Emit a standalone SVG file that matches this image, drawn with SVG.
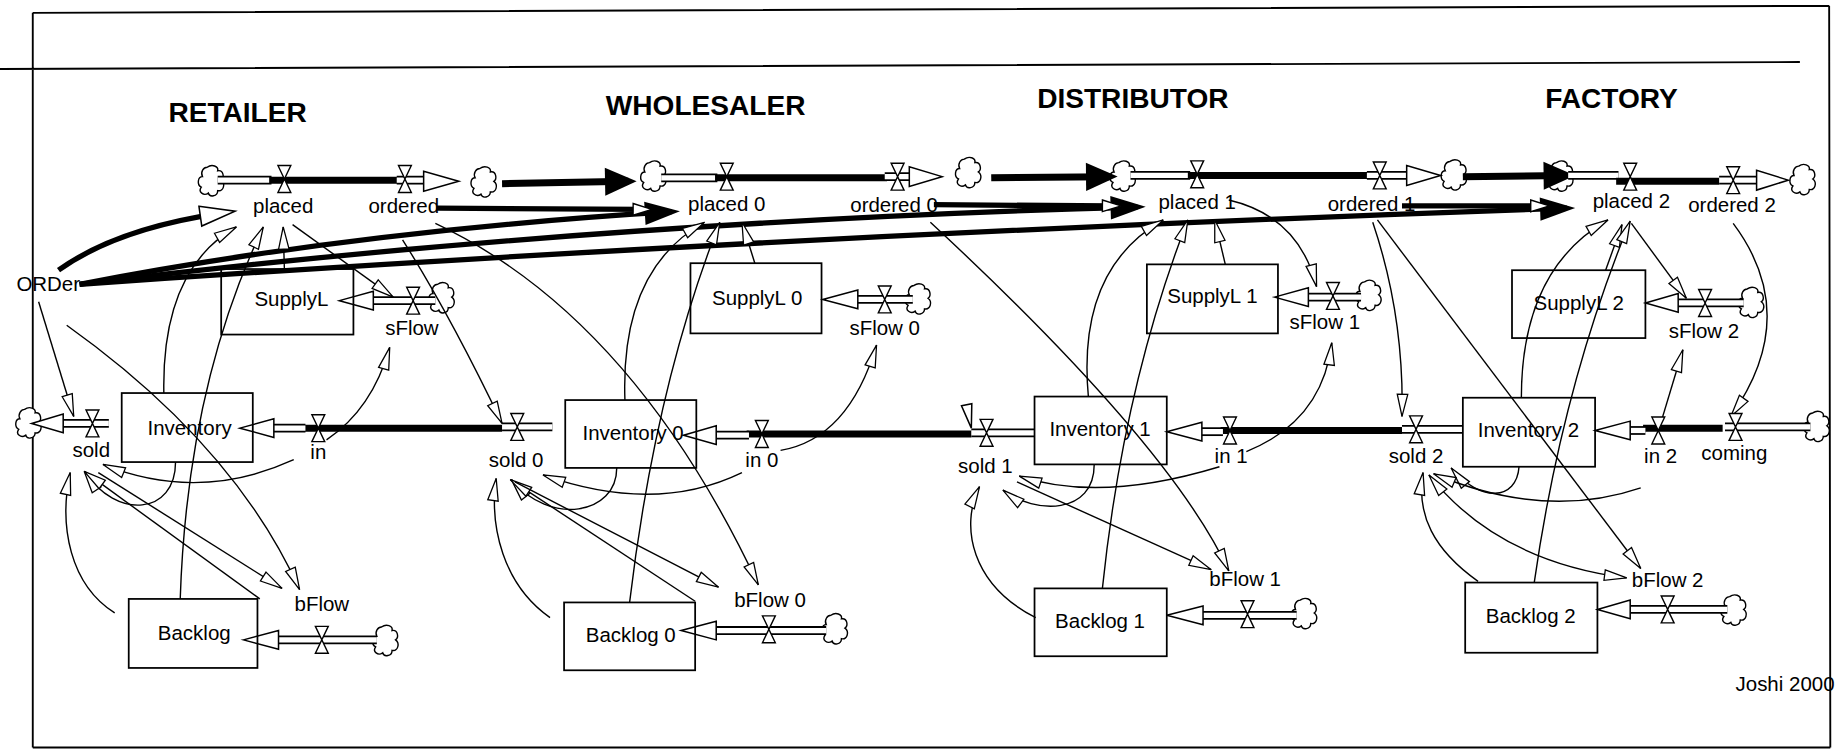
<svg xmlns="http://www.w3.org/2000/svg" width="1835" height="751" viewBox="0 0 1835 751">
<style>
.ln{fill:none;stroke:#000;stroke-width:1.2}
.tk{fill:none;stroke:#000;stroke-width:4.5}
.ch{fill:none;stroke:#000;stroke-width:6}
.po{fill:none;stroke:#000;stroke-width:7.5}
.pi{fill:none;stroke:#fff;stroke-width:4.5}
.hd{fill:#fff;stroke:#000;stroke-width:1.3}
.bx{fill:none;stroke:#000;stroke-width:1.5}
.fr{fill:none;stroke:#000;stroke-width:1.6}
.t{font-family:"Liberation Sans",Arial,Helvetica,sans-serif;font-size:17.5px;text-anchor:middle;fill:#000}
.h{font-family:"Liberation Sans",Arial,Helvetica,sans-serif;font-size:24px;font-weight:bold;text-anchor:middle;fill:#000}
</style>
<defs>
<g id="cl"><path fill="#fff" stroke="#000" stroke-width="1.2" d="M-4,-12 C0,-15 6,-13 5,-9 C10,-10 11,-3 8,-1 C12,2 10,9 5,8 C5,13 -2,14 -3,10 C-7,13 -12,9 -9,5 C-13,3 -12,-4 -8,-4 C-10,-8 -7,-12 -4,-12 Z"/></g>
<g id="vv"><path fill="#fff" stroke="#000" stroke-width="1.2" d="M-5.5,-11.5H5.5L-5.5,11.5H5.5Z"/></g>
<marker id="a" viewBox="0 0 19 10" refX="19" refY="5" markerWidth="19" markerHeight="10" markerUnits="userSpaceOnUse" orient="auto-start-reverse" overflow="visible"><path d="M0,0.5L19,5L0,9.5Z" fill="#fff" stroke="#000" stroke-width="1.1"/></marker>
<marker id="hb" viewBox="0 0 30 17" refX="20" refY="8.5" markerWidth="30" markerHeight="17" markerUnits="userSpaceOnUse" orient="auto" overflow="visible"><path d="M0,0L30,8.5L0,17Z" fill="#fff" stroke="#000" stroke-width="1.3"/></marker>
<marker id="hs" viewBox="0 0 16 10" refX="8" refY="5" markerWidth="16" markerHeight="10" markerUnits="userSpaceOnUse" orient="auto" overflow="visible"><path d="M0,0L16,5L0,10Z" fill="#fff" stroke="#000" stroke-width="1.2"/></marker>
<marker id="f" viewBox="0 0 30 20" refX="23" refY="10" markerWidth="30" markerHeight="20" markerUnits="userSpaceOnUse" orient="auto" overflow="visible"><path d="M0,0L30,10L0,20Z" fill="#000"/></marker>
<marker id="F" viewBox="0 0 27 24" refX="20" refY="12" markerWidth="27" markerHeight="24" markerUnits="userSpaceOnUse" orient="auto" overflow="visible"><path d="M0,0L27,12L0,24Z" fill="#000"/></marker>
</defs>
<rect x="0" y="0" width="1835" height="751" fill="#fff"/>
<g transform="scale(1.17028,1.16978)">
<g id="frame" class="fr">
<path d="M28,11 L1563,5 M0,59 L1538,53 M28,11 L28,639 M1563,5 L1564,639 M28,639 L1564,639"/>
</g>
<g id="titles">
<text class="h" x="203" y="104">RETAILER</text>
<text class="h" x="603" y="98">WHOLESALER</text>
<text class="h" x="968" y="92">DISTRIBUTOR</text>
<text class="h" x="1377" y="92">FACTORY</text>
</g>
<g id="clouds">
<use id="cloud-r-src" href="#cl" x="181" y="155"/>
<use id="cloud-r-snk" href="#cl" x="414" y="156"/>
<use id="cloud-w-src" href="#cl" x="559" y="151"/>
<use id="cloud-w-snk" href="#cl" x="828" y="148"/>
<use id="cloud-d-src" href="#cl" x="960" y="151"/>
<use id="cloud-d-snk" href="#cl" x="1243" y="150"/>
<use id="cloud-f-src" href="#cl" x="1334" y="151"/>
<use id="cloud-f-snk" href="#cl" x="1541" y="154"/>
<use id="cloud-sflow" href="#cl" x="378" y="255"/>
<use id="cloud-sflow0" href="#cl" x="785" y="256"/>
<use id="cloud-sflow1" href="#cl" x="1170" y="253"/>
<use id="cloud-sflow2" href="#cl" x="1497" y="259"/>
<use id="cloud-sold" href="#cl" x="25" y="362"/>
<use id="cloud-bflow" href="#cl" x="330" y="548"/>
<use id="cloud-bflow0" href="#cl" x="714" y="538"/>
<use id="cloud-bflow1" href="#cl" x="1115" y="525"/>
<use id="cloud-bflow2" href="#cl" x="1482" y="522"/>
<use id="cloud-coming" href="#cl" x="1553" y="365"/>
</g>
<g id="connectors">
<path class="ch" marker-end="url(#F)" d="M429,157 L537,155"/>
<path class="ch" marker-end="url(#F)" d="M847,152 L948,151"/>
<path class="ch" marker-end="url(#F)" d="M1250,151 L1339,150"/>
<path class="tk" marker-end="url(#hb)" d="M50,231 Q100,195 191,182"/>
<path class="tk" marker-end="url(#f)" d="M68,243 Q300,198 574,181"/>
<path class="tk" marker-end="url(#f)" d="M68,243 Q500,190 972,177"/>
<path class="tk" marker-end="url(#f)" d="M68,243 Q690,200 1339,178"/>
<path class="tk" marker-end="url(#hs)" d="M373,178 L549,179"/>
<path class="tk" marker-end="url(#hs)" d="M798,175 L950,176"/>
<path class="tk" marker-end="url(#hs)" d="M1198,176 L1316,176"/>
<g class="ln" marker-end="url(#a)">
<path d="M33,258 L63,356"/>
<path d="M57,278 Q200,380 256,504"/>
<path d="M250,192 L336,254"/>
<path d="M243,230 L242,194"/>
<path d="M140,336 Q138,230 202,194"/>
<path d="M154,512 Q160,330 225,194"/>
<path d="M279,376 Q318,350 333,297"/>
<path d="M251,393 Q170,430 88,397"/>
<path d="M150,395 C150,440 100,445 72,403"/>
<path d="M222,512 L72,403"/>
<path d="M98,524 C60,500 50,450 60,404"/>
<path d="M84,404 L241,503"/>
<path d="M344,205 Q385,270 429,362"/>
<path d="M372,191 Q540,270 648,500"/>
<path d="M645,225 L634,190"/>
<path d="M534,342 Q530,230 602,190"/>
<path d="M538,515 Q560,330 615,190"/>
<path d="M667,385 Q725,375 749,295"/>
<path d="M634,404 Q560,440 464,406"/>
<path d="M527,400 C527,440 470,450 437,410"/>
<path d="M594,514 L436,410"/>
<path d="M470,528 C430,500 418,450 424,409"/>
<path d="M440,412 L614,502"/>
<path d="M795,190 Q1000,380 1050,488"/>
<path d="M1047,226 L1038,188"/>
<path d="M930,339 Q920,230 994,188"/>
<path d="M942,503 Q960,330 1015,188"/>
<path d="M1050,171 Q1110,185 1125,245"/>
<path d="M1065,386 Q1130,360 1138,293"/>
<path d="M1042,399 Q940,430 871,407"/>
<path d="M935,397 C935,440 885,440 857,419"/>
<path d="M885,528 C830,500 820,450 837,416"/>
<path d="M869,412 L1035,487"/>
<path d="M1173,190 Q1200,270 1198,356"/>
<path d="M1177,188 L1402,486"/>
<path d="M1372,231 L1386,192"/>
<path d="M1300,340 Q1300,230 1374,188"/>
<path d="M1311,498 Q1335,330 1393,189"/>
<path d="M1394,191 L1441,255"/>
<path d="M1416,372 L1438,299"/>
<path d="M1481,191 Q1540,270 1479,356"/>
<path d="M1298,399 C1296,428 1265,430 1240,400"/>
<path d="M1402,417 Q1320,445 1225,405"/>
<path d="M1263,497 C1225,470 1210,440 1216,404"/>
<path marker-start="url(#a)" d="M1221,406 Q1280,480 1390,494"/>
</g>
<polygon class="hd" points="821.6,346.9 830.4,345.1 830,366"/>
</g>
<g id="flow-placed">
<path class="po" d="M186,154 H232"/><path class="pi" d="M186,154 H232"/>
<path class="ch" d="M230,154 H340"/>
<use href="#vv" x="243" y="153"/>
<text class="t" x="242" y="182">placed</text>
</g>
<g id="flow-ordered">
<path class="po" d="M339,154 H364"/><path class="pi" d="M339,154 H364"/>
<polygon class="hd" points="392,155 362,146.5 362,163.5"/>
<use href="#vv" x="346" y="153"/>
<text class="t" x="345" y="182">ordered</text>
</g>
<g id="flow-placed0">
<path class="po" d="M565,152 H613"/><path class="pi" d="M565,152 H613"/>
<path class="ch" d="M611,152 H758"/>
<use href="#vv" x="621" y="151"/>
<text class="t" x="621" y="180">placed 0</text>
</g>
<g id="flow-ordered0">
<path class="po" d="M756,151 H779"/><path class="pi" d="M756,151 H779"/>
<polygon class="hd" points="805,151 777,142.5 777,159.5"/>
<use href="#vv" x="767" y="151"/>
<text class="t" x="764" y="181">ordered 0</text>
</g>
<g id="flow-placed1">
<path class="po" d="M966,150 H1017"/><path class="pi" d="M966,150 H1017"/>
<path class="ch" d="M1015,150 H1170"/>
<use href="#vv" x="1023" y="149"/>
<text class="t" x="1023" y="179">placed 1</text>
</g>
<g id="flow-ordered1">
<path class="po" d="M1168,150 H1204"/><path class="pi" d="M1168,150 H1204"/>
<polygon class="hd" points="1231,150 1202,141.5 1202,158.5"/>
<use href="#vv" x="1179" y="150"/>
<text class="t" x="1172" y="180">ordered 1</text>
</g>
<g id="flow-placed2">
<path class="po" d="M1340,150 H1383"/><path class="pi" d="M1340,150 H1383"/>
<path class="ch" d="M1381,155 H1469"/>
<use href="#vv" x="1393" y="151"/>
<text class="t" x="1394" y="178">placed 2</text>
</g>
<g id="flow-ordered2">
<path class="po" d="M1469,154 H1503"/><path class="pi" d="M1469,154 H1503"/>
<polygon class="hd" points="1528,154 1501,145.5 1501,162.5"/>
<use href="#vv" x="1481" y="154"/>
<text class="t" x="1480" y="181">ordered 2</text>
</g>
<g id="flow-sFlow">
<path class="po" d="M317,257 H372"/><path class="pi" d="M317,257 H372"/>
<polygon class="hd" points="290,257 319,249 319,265"/>
<use href="#vv" x="353" y="257"/>
<text class="t" x="352" y="286">sFlow</text>
</g>
<g id="flow-sold">
<path class="po" d="M52,362 H93"/><path class="pi" d="M52,362 H93"/>
<polygon class="hd" points="27,362 54,354 54,370"/>
<use href="#vv" x="79" y="362"/>
<text class="t" x="78" y="391">sold</text>
</g>
<g id="flow-in">
<path class="ch" d="M259,366 H429"/>
<path class="po" d="M232,366 H261"/><path class="pi" d="M232,366 H261"/>
<polygon class="hd" points="205,366 234,358 234,374"/>
<use href="#vv" x="272" y="366"/>
<text class="t" x="272" y="392">in</text>
</g>
<g id="flow-bFlow">
<path class="po" d="M236,547 H322"/><path class="pi" d="M236,547 H322"/>
<polygon class="hd" points="208,547 238,539 238,555"/>
<use href="#vv" x="275" y="547"/>
<text class="t" x="275" y="522">bFlow</text>
</g>
<g id="flow-sFlow0">
<path class="po" d="M731,256 H780"/><path class="pi" d="M731,256 H780"/>
<polygon class="hd" points="703,256 733,248 733,264"/>
<use href="#vv" x="756" y="256"/>
<text class="t" x="756" y="286">sFlow 0</text>
</g>
<g id="flow-sold0">
<path class="po" d="M429,365 H472"/><path class="pi" d="M429,365 H472"/>
<use href="#vv" x="442" y="365"/>
<text class="t" x="441" y="399">sold 0</text>
</g>
<g id="flow-in0">
<path class="ch" d="M638,371 H830"/>
<path class="po" d="M610,372 H640"/><path class="pi" d="M610,372 H640"/>
<polygon class="hd" points="584,372 612,364 612,380"/>
<use href="#vv" x="651" y="371"/>
<text class="t" x="651" y="399">in 0</text>
</g>
<g id="flow-bFlow0">
<path class="po" d="M610,539 H706"/><path class="pi" d="M610,539 H706"/>
<polygon class="hd" points="582,539 612,531 612,547"/>
<use href="#vv" x="657" y="538"/>
<text class="t" x="658" y="519">bFlow 0</text>
</g>
<g id="flow-sFlow1">
<path class="po" d="M1116,254 H1163"/><path class="pi" d="M1116,254 H1163"/>
<polygon class="hd" points="1089,254 1118,246 1118,262"/>
<use href="#vv" x="1139" y="253"/>
<text class="t" x="1132" y="281">sFlow 1</text>
</g>
<g id="flow-sold1">
<path class="po" d="M830,370 H884"/><path class="pi" d="M830,370 H884"/>
<use href="#vv" x="843" y="370"/>
<text class="t" x="842" y="404">sold 1</text>
</g>
<g id="flow-in1">
<path class="ch" d="M1043,368 H1198"/>
<path class="po" d="M1025,369 H1045"/><path class="pi" d="M1025,369 H1045"/>
<polygon class="hd" points="997,369 1027,361 1027,377"/>
<use href="#vv" x="1051" y="368"/>
<text class="t" x="1052" y="396">in 1</text>
</g>
<g id="flow-bFlow1">
<path class="po" d="M1026,526 H1108"/><path class="pi" d="M1026,526 H1108"/>
<polygon class="hd" points="997,526 1028,518 1028,534"/>
<use href="#vv" x="1066" y="525"/>
<text class="t" x="1064" y="501">bFlow 1</text>
</g>
<g id="flow-sFlow2">
<path class="po" d="M1432,259 H1490"/><path class="pi" d="M1432,259 H1490"/>
<polygon class="hd" points="1406,259 1434,251 1434,267"/>
<use href="#vv" x="1457" y="259"/>
<text class="t" x="1456" y="289">sFlow 2</text>
</g>
<g id="flow-sold2">
<path class="po" d="M1198,367 H1250"/><path class="pi" d="M1198,367 H1250"/>
<use href="#vv" x="1210" y="367"/>
<text class="t" x="1210" y="396">sold 2</text>
</g>
<g id="flow-in2">
<path class="ch" d="M1404,366 H1472"/>
<path class="po" d="M1391,368 H1406"/><path class="pi" d="M1391,368 H1406"/>
<polygon class="hd" points="1363,368 1393,360 1393,376"/>
<use href="#vv" x="1417" y="368"/>
<text class="t" x="1419" y="396">in 2</text>
</g>
<g id="flow-coming">
<path class="po" d="M1474,365 H1547"/><path class="pi" d="M1474,365 H1547"/>
<use href="#vv" x="1483" y="365"/>
<text class="t" x="1482" y="393">coming</text>
</g>
<g id="flow-bFlow2">
<path class="po" d="M1391,521 H1476"/><path class="pi" d="M1391,521 H1476"/>
<polygon class="hd" points="1365,521 1393,513 1393,529"/>
<use href="#vv" x="1425" y="521"/>
<text class="t" x="1425" y="502">bFlow 2</text>
</g>
<g id="stock-SupplyL"><rect class="bx" x="189" y="230" width="113" height="56"/><text class="t" x="249" y="262">SupplyL</text></g>
<g id="stock-SupplyL0"><rect class="bx" x="590" y="225" width="112" height="60"/><text class="t" x="647" y="261">SupplyL 0</text></g>
<g id="stock-SupplyL1"><rect class="bx" x="980" y="226" width="112" height="59"/><text class="t" x="1036" y="259">SupplyL 1</text></g>
<g id="stock-SupplyL2"><rect class="bx" x="1292" y="231" width="114" height="58"/><text class="t" x="1349" y="265">SupplyL 2</text></g>
<g id="stock-Inventory"><rect class="bx" x="104" y="336" width="112" height="59"/><text class="t" x="162" y="372">Inventory</text></g>
<g id="stock-Inventory0"><rect class="bx" x="483" y="342" width="112" height="58"/><text class="t" x="541" y="376">Inventory 0</text></g>
<g id="stock-Inventory1"><rect class="bx" x="884" y="339" width="113" height="58"/><text class="t" x="940" y="373">Inventory 1</text></g>
<g id="stock-Inventory2"><rect class="bx" x="1250" y="340" width="113" height="59"/><text class="t" x="1306" y="374">Inventory 2</text></g>
<g id="stock-Backlog"><rect class="bx" x="110" y="512" width="110" height="59"/><text class="t" x="166" y="547">Backlog</text></g>
<g id="stock-Backlog0"><rect class="bx" x="482" y="515" width="112" height="58"/><text class="t" x="539" y="549">Backlog 0</text></g>
<g id="stock-Backlog1"><rect class="bx" x="884" y="503" width="113" height="58"/><text class="t" x="940" y="537">Backlog 1</text></g>
<g id="stock-Backlog2"><rect class="bx" x="1252" y="498" width="113" height="60"/><text class="t" x="1308" y="533">Backlog 2</text></g>
<g id="aux-ORDer"><text class="t" x="14" y="249" style="text-anchor:start">ORDer</text></g>
<g id="note"><text class="t" x="1483" y="591" style="text-anchor:start">Joshi 2000</text></g>
</g>
</svg>
